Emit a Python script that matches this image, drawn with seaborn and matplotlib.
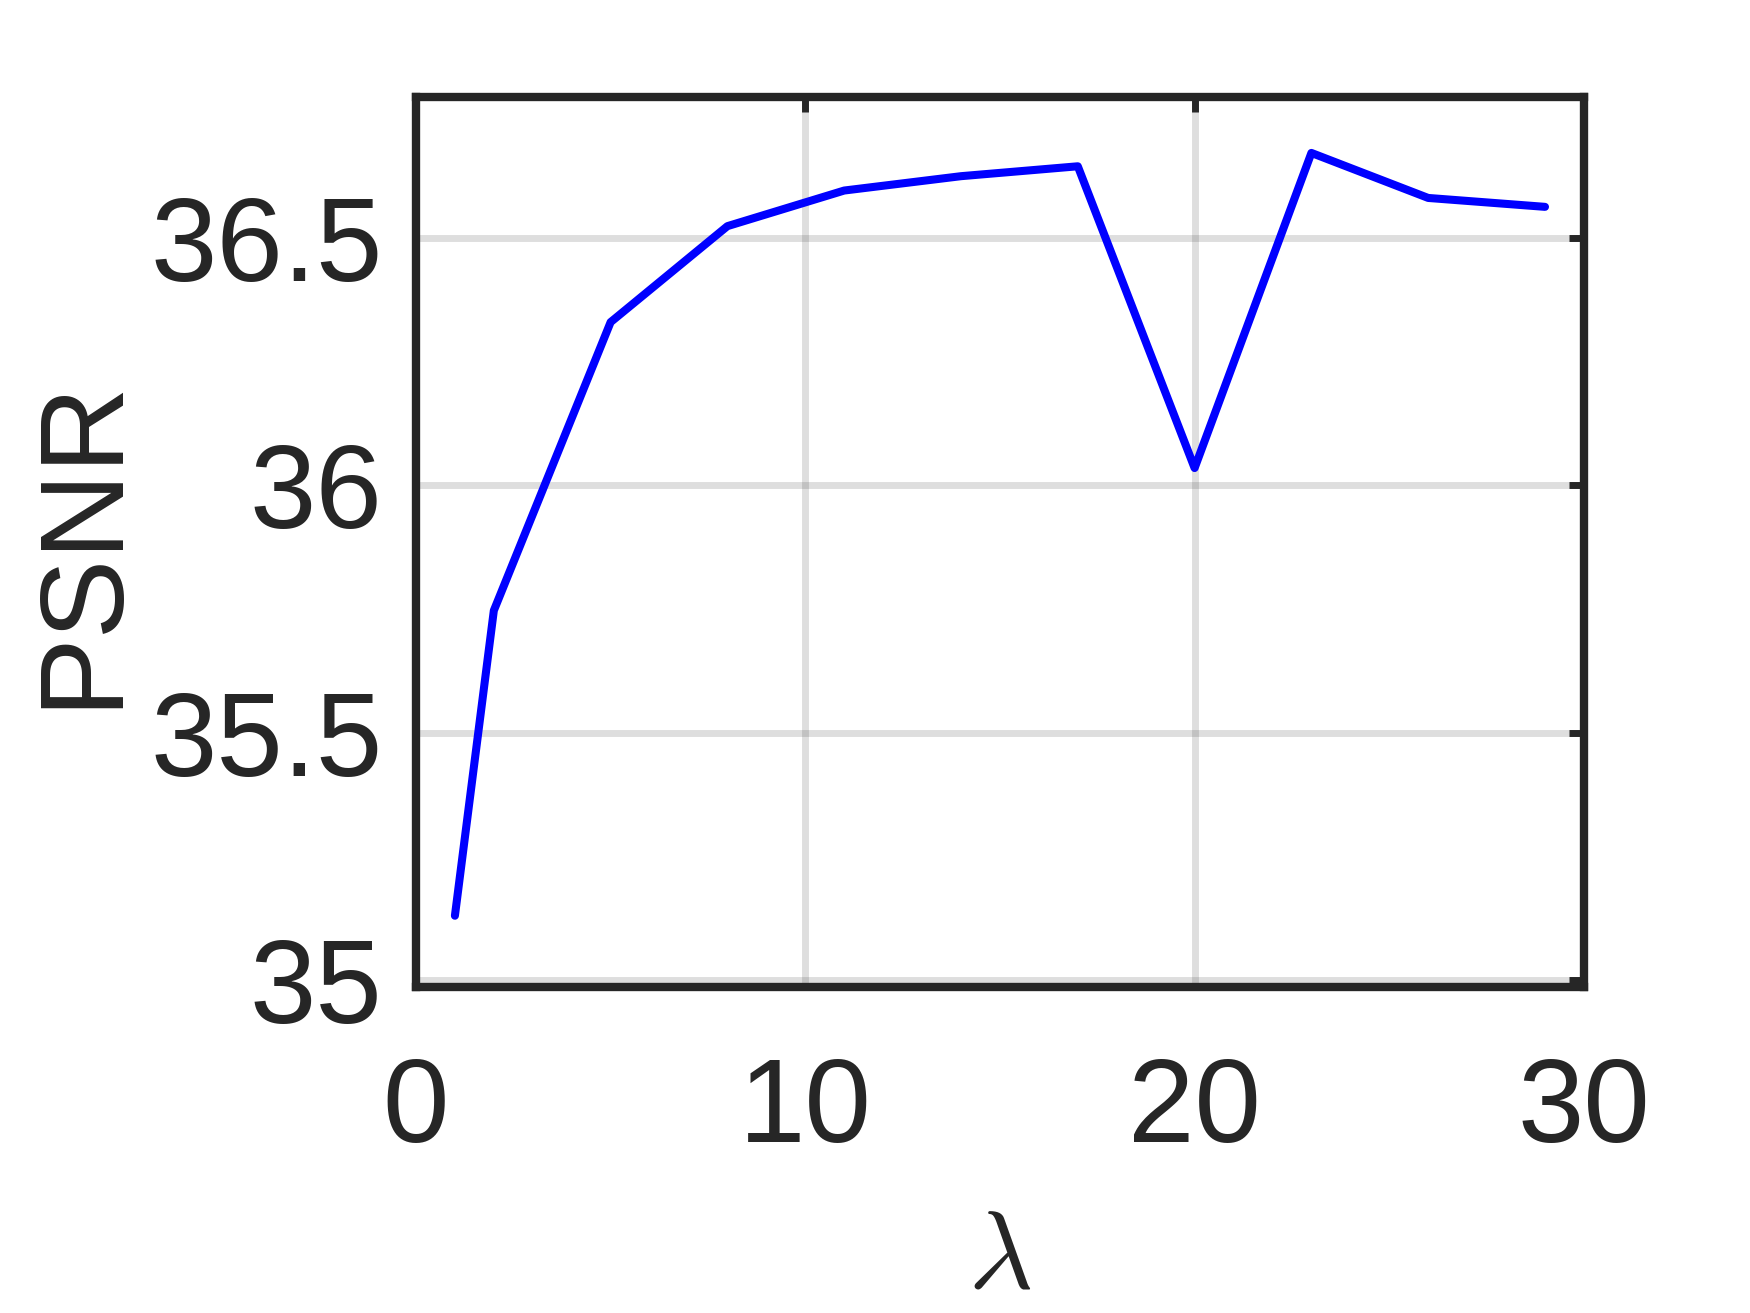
import pandas as pd
import seaborn as sns
import matplotlib.pyplot as plt

# --- datos ---
lam = [1, 2, 5, 8, 11, 14, 17, 20, 23, 26, 29]
psnr = [35.13, 35.747, 36.33, 36.524, 36.596, 36.625, 36.645, 36.035, 36.672, 36.581, 36.563]
x_ticks = [0, 10, 20, 30]
y_ticks = [35, 35.5, 36, 36.5]
y_tick_labels = ['35', '35.5', '36', '36.5']

df = pd.DataFrame({'lambda': lam, 'PSNR': psnr})

sns.set_style('white')
plt.rcParams['font.family'] = ['Liberation Sans', 'DejaVu Sans']
plt.rcParams['mathtext.fontset'] = 'cm'

dark = '#262626'
fig = plt.figure(figsize=(17.5, 13.13), dpi=100)
ax = fig.add_axes([0.2377, 0.2483, 0.9051 - 0.2377, 0.9261 - 0.2483])

sns.lineplot(data=df, x='lambda', y='PSNR', color='#0000ff', linewidth=5.8, ax=ax)

ax.set_xlim(0, 30)
ax.set_ylim(34.986, 36.785)
ax.set_xticks(x_ticks)
ax.set_yticks(y_ticks)
ax.set_yticklabels(y_tick_labels)
ax.grid(True, color=dark, alpha=0.15, linewidth=5)

for s in ax.spines.values():
    s.set_visible(True)
    s.set_color(dark)
    s.set_linewidth(6)

ax.tick_params(axis='both', direction='in', length=11, width=5, color=dark,
               labelsize=86, labelcolor=dark, top=True, right=True)
ax.tick_params(axis='x', pad=50)
ax.tick_params(axis='y', pad=24)

ax.set_xlabel(r'$\lambda$', fontsize=80, color=dark, labelpad=28)
ax.set_ylabel('PSNR', fontsize=86, color=dark, labelpad=8)

fig.savefig('out.png', dpi=100)
